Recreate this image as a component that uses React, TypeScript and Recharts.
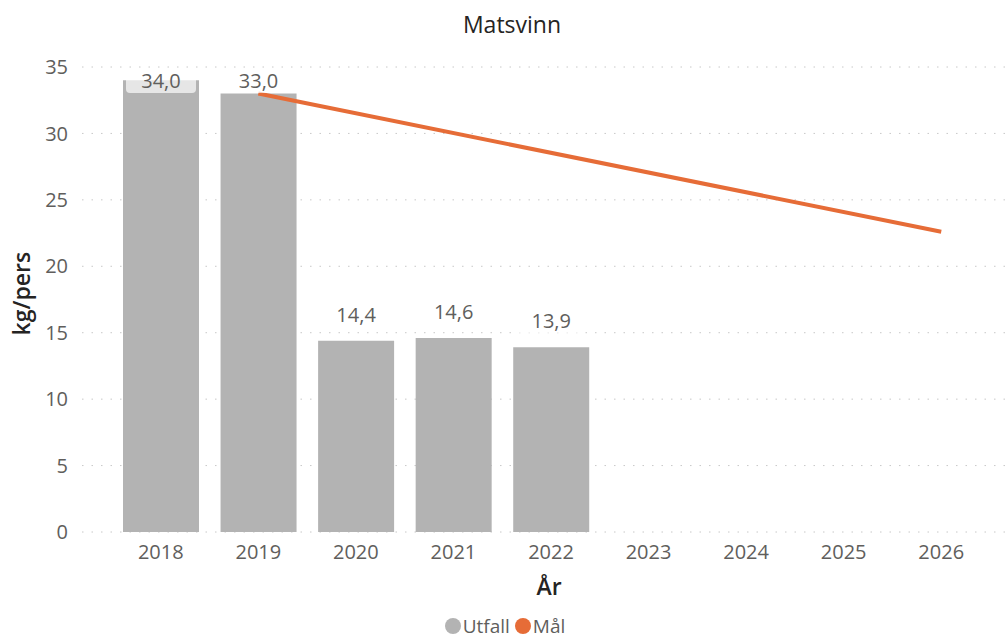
import React from 'react';
import { ComposedChart, Bar, Line, XAxis, YAxis, CartesianGrid, Legend, LabelList } from 'recharts';

const years = ['2018', '2019', '2020', '2021', '2022', '2023', '2024', '2025', '2026'];
const utfall: (number | null)[] = [34.0, 33.0, 14.4, 14.6, 13.9, null, null, null, null];
const maal: (number | null)[] = [null, 33.0, null, null, null, null, null, null, 22.6];
const yTicks = [0, 5, 10, 15, 20, 25, 30, 35];

const data = years.map((y, i) => ({ year: y, Utfall: utfall[i], Mal: maal[i] }));

const FONT = '"Open Sans", "Noto Sans", sans-serif';
const BAR = '#b3b3b3';
const ORANGE = '#E66C37';

const BarLabel = (props: any) => {
  const { x, y, width, value } = props;
  if (value == null) return null;
  const cy = Math.max(y - 26, 81);
  const txt = value.toFixed(1).replace('.', ',');
  return (
    <g>
      <rect x={x + 3} y={cy - 13} width={width - 6} height={25} rx={4} fill="#ffffff" fillOpacity={0.67} />
      <text x={x + width / 2} y={cy} dy="0.35em" textAnchor="middle" fontSize={20} fill="#605e5c" fontFamily={FONT}>
        {txt}
      </text>
    </g>
  );
};

const LegendContent = () => (
  <div style={{ display: 'flex', justifyContent: 'center', alignItems: 'center', fontFamily: FONT, fontSize: 19, lineHeight: '20px', height: 20, color: '#605e5c', paddingLeft: 4 }}>
    <span style={{ display: 'inline-block', width: 16, height: 16, borderRadius: 8, background: BAR, marginRight: 2 }} />
    <span style={{ marginRight: 5 }}>Utfall</span>
    <span style={{ display: 'inline-block', width: 16, height: 16, borderRadius: 8, background: ORANGE, marginRight: 2 }} />
    <span>Mål</span>
  </div>
);

export default function App() {
  return (
    <div style={{ position: 'absolute', left: 0, top: 0, width: 1006, height: 637, background: '#fff' }}>
      <div style={{ position: 'absolute', left: 0, top: 8, width: 1024, textAlign: 'center', fontFamily: FONT, fontSize: 23, color: '#252423' }}>
        Matsvinn
      </div>
      <ComposedChart width={1006} height={637} data={data} margin={{ top: 67, right: 0, bottom: 0, left: 0 }} barSize={76}>
        <CartesianGrid horizontal vertical={false} stroke="#c8c8c8" strokeDasharray="1.5 8" />
        <XAxis
          dataKey="year"
          height={105}
          padding={{ left: 30, right: 16 }}
          axisLine={false}
          tickLine={false}
          tickMargin={7}
          tick={{ fontSize: 20, fill: '#605e5c', fontFamily: FONT }}
          label={{ value: 'År', position: 'insideBottom', offset: 42, dx: 5, style: { fontSize: 23, fontWeight: 600, fill: '#252423', fontFamily: FONT } }}
        />
        <YAxis
          width={82}
          domain={[0, 35]}
          ticks={yTicks}
          axisLine={false}
          tickLine={false}
          tickMargin={8}
          tick={{ fontSize: 20, fill: '#605e5c', fontFamily: FONT }}
          label={{ value: 'kg/pers', angle: -90, position: 'insideLeft', offset: 22, dy: 36, style: { fontSize: 23, fontWeight: 600, fill: '#252423', fontFamily: FONT } }}
        />
        <Legend layout="horizontal" verticalAlign="middle" align="center" wrapperStyle={{ top: 616, left: 0, width: 1006, height: 20 }} content={<LegendContent />} />
        <Bar dataKey="Utfall" name="Utfall" fill={BAR} isAnimationActive={false}>
          <LabelList dataKey="Utfall" content={<BarLabel />} />
        </Bar>
        <Line dataKey="Mal" name="Mål" stroke={ORANGE} strokeWidth={4} dot={false} activeDot={false} connectNulls isAnimationActive={false} />
      </ComposedChart>
    </div>
  );
}
